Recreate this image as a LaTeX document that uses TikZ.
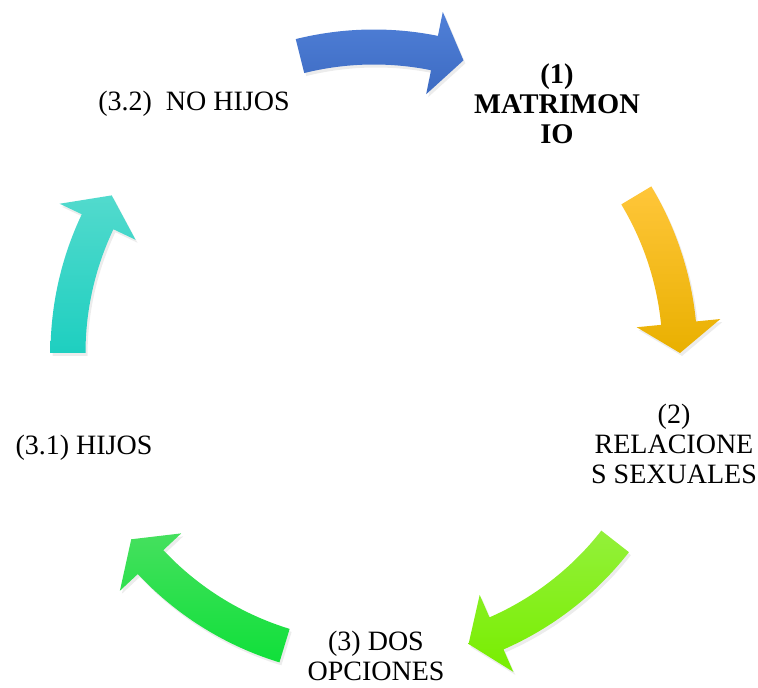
\documentclass[tikz,border=0pt]{standalone}
\usepackage{fontspec}
\setmainfont{Liberation Serif}
\usetikzlibrary{shadows}
\definecolor{bluetop}{HTML}{5080D8}
\definecolor{bluebot}{HTML}{3D6BC2}
\definecolor{yellowtop}{HTML}{FFC63A}
\definecolor{yellowbot}{HTML}{E9B000}
\definecolor{limetop}{HTML}{93F03A}
\definecolor{limebot}{HTML}{78EE00}
\definecolor{greentop}{HTML}{45E05E}
\definecolor{greenbot}{HTML}{10E03A}
\definecolor{cyantop}{HTML}{52DACD}
\definecolor{cyanbot}{HTML}{1ECFC0}
% curved block arrow on the ring: tail angle, tip angle, top colour, bottom colour
\newcommand\cyclearrow[4]{%
  \shade[top color=#3,bottom color=#4,drop shadow={opacity=0.15,shadow xshift=2pt,shadow yshift=-3pt}]
    (#1:323.5) arc[start angle=#1,end angle=#2+5.6,radius=323.5]
    -- (#2+5.6:348) -- (#2:306) -- (#2+5.6:264) -- (#2+5.6:288.5)
    arc[start angle=#2+5.6,end angle=#1,radius=288.5] -- cycle;}
\begin{document}
\begin{tikzpicture}[x=1pt,y=1pt,every node/.style={font=\fontsize{28}{30}\selectfont,align=center,inner sep=0pt}]
\useasboundingbox (0,0) rectangle (758,688);
\begin{scope}[shift={(374,335)}]
\cyclearrow{104}{73}{bluetop}{bluebot}
\cyclearrow{31}{0}{yellowtop}{yellowbot}
\cyclearrow{-38}{-72}{limetop}{limebot}
\cyclearrow{-107}{-142.5}{greentop}{greenbot}
\cyclearrow{180}{149}{cyantop}{cyanbot}
\end{scope}
\node[font=\fontsize{28.5}{30}\selectfont\bfseries] (matrimonio) at (557,584) {(1)\\MATRIMON\\IO};
\node (relaciones) at (674,244) {(2)\\RELACIONE\\S SEXUALES};
\node (opciones) at (376,32) {(3) DOS\\OPCIONES};
\node (hijos) at (84,240) {(3.1) HIJOS};
\node (nohijos) at (194,584) {(3.2)\ \ NO HIJOS};
\end{tikzpicture}
\end{document}
